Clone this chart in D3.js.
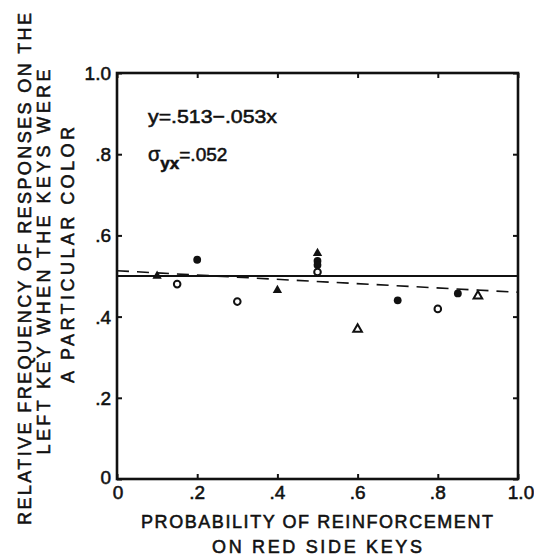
<!DOCTYPE html>
<html><head><meta charset="utf-8">
<script src="https://cdn.jsdelivr.net/npm/d3@7"></script>
<style>
html,body{margin:0;padding:0;background:#fff;}
text{font-family:"Liberation Sans",Arial,sans-serif;fill:#111;stroke:#111;stroke-width:0.55px;}
</style></head>
<body><svg id="c" width="534" height="557"></svg>
<script>
// ---- data ----
const xTicks = [0, 0.2, 0.4, 0.6, 0.8, 1.0];
const xTickLabels = ["0", ".2", ".4", ".6", ".8", "1.0"];
const yTicks = [0, 0.2, 0.4, 0.6, 0.8, 1.0];
const yTickLabels = ["0", ".2", ".4", ".6", ".8", "1.0"];
const filledCircleX = [0.2, 0.5, 0.5, 0.7, 0.85];
const filledCircleY = [0.54, 0.537, 0.527, 0.44, 0.457];
const openCircleX = [0.15, 0.3, 0.5, 0.8];
const openCircleY = [0.48, 0.437, 0.51, 0.419];
const filledTriangleX = [0.1, 0.4, 0.5];
const filledTriangleY = [0.5, 0.465, 0.556];
const openTriangleX = [0.6, 0.9];
const openTriangleY = [0.369, 0.451];
const referenceLevel = 0.5;
const fitIntercept = 0.513, fitSlope = -0.053;
const equationText = "y=.513\u2212.053x";
const sigmaValue = "=.052";
const xTitle = ["PROBABILITY OF REINFORCEMENT", "ON RED SIDE KEYS"];
const yTitle = ["RELATIVE FREQUENCY OF RESPONSES ON THE", "LEFT KEY WHEN THE KEYS WERE", "A PARTICULAR COLOR"];

// ---- layout ----
const svg = d3.select("#c");
const L = 117, R = 518, T = 73, B = 479;
const x = d3.scaleLinear().domain([0, 1]).range([L, R]);
const y = d3.scaleLinear().domain([0, 1]).range([B, T]);
const ink = "#111";

// frame
svg.append("rect").attr("x", L).attr("y", T).attr("width", R - L).attr("height", B - T)
  .attr("fill", "none").attr("stroke", ink).attr("stroke-width", 2.6);

// inside ticks on all sides
const tl = 5;
const gB = svg.append("g").attr("transform", `translate(0,${B})`)
  .call(d3.axisBottom(x).tickValues(xTicks).tickSize(-tl).tickFormat(""));
const gT = svg.append("g").attr("transform", `translate(0,${T})`)
  .call(d3.axisTop(x).tickValues(xTicks).tickSize(-tl).tickFormat(""));
const gL = svg.append("g").attr("transform", `translate(${L},0)`)
  .call(d3.axisLeft(y).tickValues(yTicks).tickSize(-tl).tickFormat(""));
const gR = svg.append("g").attr("transform", `translate(${R},0)`)
  .call(d3.axisRight(y).tickValues(yTicks).tickSize(-tl).tickFormat(""));
[gB, gT, gL, gR].forEach(g => {
  g.select(".domain").remove();
  g.selectAll(".tick line").attr("stroke", ink).attr("stroke-width", 2);
});

// tick labels
svg.append("g").selectAll("text").data(xTicks).join("text")
  .attr("x", (d, i) => x(d) + (i === 0 ? 1 : (i === 5 ? 3 : 0))).attr("y", B + 20)
  .attr("text-anchor", "middle").attr("font-size", 19)
  .text((d, i) => xTickLabels[i]);
svg.append("g").selectAll("text").data(yTicks).join("text")
  .attr("x", L - 6).attr("y", d => y(d) + 7 - (d === 0 ? 2 : 0))
  .attr("text-anchor", "end").attr("font-size", 19)
  .text((d, i) => yTickLabels[i]);

// reference line at 0.5
svg.append("line").attr("x1", x(0)).attr("x2", x(1))
  .attr("y1", y(referenceLevel)).attr("y2", y(referenceLevel))
  .attr("stroke", ink).attr("stroke-width", 1.8);

// regression dashed line
svg.append("line").attr("x1", x(0)).attr("x2", x(1))
  .attr("y1", y(fitIntercept)).attr("y2", y(fitIntercept + fitSlope))
  .attr("stroke", ink).attr("stroke-width", 1.6).attr("stroke-dasharray", "12,8");

// markers
const tri = d3.symbol().type(d3.symbolTriangle).size(38);
const g = svg.append("g");
g.selectAll(".fc").data(filledCircleX).join("circle")
  .attr("cx", d => x(d)).attr("cy", (d, i) => y(filledCircleY[i])).attr("r", 3.9).attr("fill", ink);
g.selectAll(".ft").data(filledTriangleX).join("path")
  .attr("d", tri).attr("transform", (d, i) => `translate(${x(d)},${y(filledTriangleY[i])})`).attr("fill", ink);
g.selectAll(".oc").data(openCircleX).join("circle")
  .attr("cx", d => x(d)).attr("cy", (d, i) => y(openCircleY[i])).attr("r", 3.3)
  .attr("fill", "#fff").attr("stroke", ink).attr("stroke-width", 2);
g.selectAll(".ot").data(openTriangleX).join("path")
  .attr("d", d3.symbol().type(d3.symbolTriangle).size(32))
  .attr("transform", (d, i) => `translate(${x(d)},${y(openTriangleY[i])})`)
  .attr("fill", "#fff").attr("stroke", ink).attr("stroke-width", 2);

// annotations
svg.append("text").attr("x", 148).attr("y", 123).attr("font-size", 19)
  .attr("textLength", 129).attr("lengthAdjust", "spacingAndGlyphs").text(equationText);
const sg = svg.append("text").attr("x", 148).attr("y", 161).attr("font-size", 20);
sg.append("tspan").text("\u03c3");
sg.append("tspan").attr("dy", 8).attr("font-size", 17).attr("font-weight", "bold").text("yx");
sg.append("tspan").attr("dy", -8).attr("font-size", 19).text(sigmaValue);

// x title
const xW = [352, 210];
xTitle.forEach((t, i) => {
  svg.append("text").attr("x", 317).attr("y", 528 + i * 25).attr("text-anchor", "middle")
    .attr("font-size", 18).attr("textLength", xW[i]).attr("lengthAdjust", "spacing").text(t);
});

// y title (rotated)
const yX = [31, 50, 74], yC = [269, 262, 255], yW = [512, 385, 256];
yTitle.forEach((t, i) => {
  svg.append("text").attr("transform", `translate(${yX[i]},${yC[i]}) rotate(-90)`)
    .attr("text-anchor", "middle").attr("font-size", 18)
    .attr("textLength", yW[i]).attr("lengthAdjust", "spacing").text(t);
});
</script></body></html>
